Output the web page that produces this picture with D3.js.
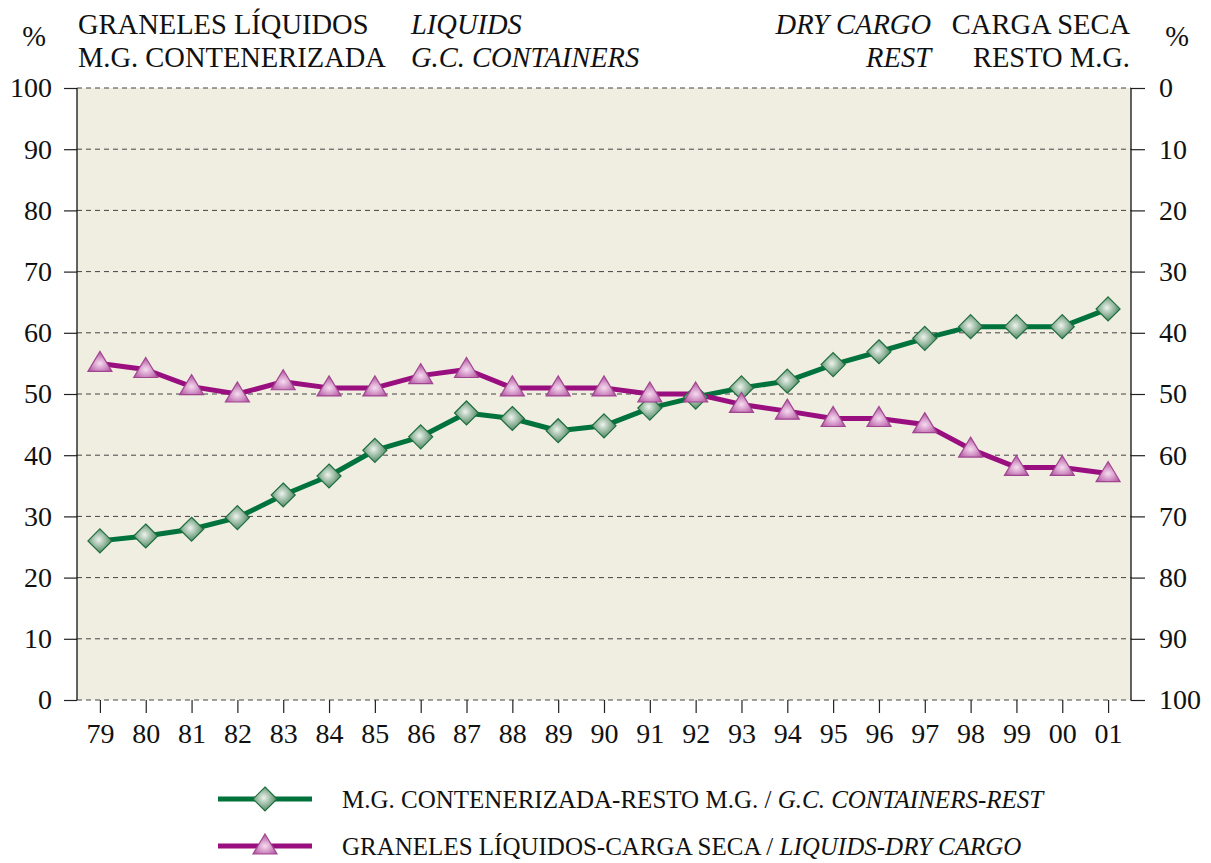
<!DOCTYPE html>
<html>
<head>
<meta charset="utf-8">
<script src="https://cdn.jsdelivr.net/npm/d3@7"></script>
<style>
  body { margin: 0; background: #fff; }
  text { font-family: "Liberation Serif", "Times New Roman", serif; fill: #111; }
</style>
</head>
<body>
<svg id="chart" width="1211" height="863"></svg>
<script>
// data
var years = ["79","80","81","82","83","84","85","86","87","88","89","90","91","92","93","94","95","96","97","98","99","00","01"];
var containers = [26, 26.8, 27.9, 29.8, 33.5, 36.6, 40.8, 43, 46.9, 46, 44, 44.8, 47.7, 49.5, 51, 52.1, 54.8, 56.9, 59.1, 61, 61, 61, 63.9];
var liquids = [55, 54, 51.2, 50, 52, 51, 51, 53, 54, 51, 51, 51, 50, 50, 48.3, 47.2, 46, 46, 45, 41, 38, 38, 37];
var leftTicks = [0, 10, 20, 30, 40, 50, 60, 70, 80, 90, 100];

var green = "#00733c", magenta = "#990f7f";

var svg = d3.select("#chart");
var pLeft = 77, pRight = 1131, pTop = 88, pBottom = 700;

var x = d3.scalePoint().domain(years).range([pLeft, pRight]).padding(0.5);
var y = d3.scaleLinear().domain([0, 100]).range([pBottom, pTop]);
var yr = d3.scaleLinear().domain([100, 0]).range([pBottom, pTop]);

var defs = svg.append("defs");
var gd = defs.append("radialGradient").attr("id", "gDia").attr("cx", "45%").attr("cy", "45%").attr("r", "60%");
gd.append("stop").attr("offset", "0%").attr("stop-color", "#eef3ec");
gd.append("stop").attr("offset", "100%").attr("stop-color", "#3f7d55");
var gt = defs.append("radialGradient").attr("id", "gTri").attr("cx", "50%").attr("cy", "60%").attr("r", "60%");
gt.append("stop").attr("offset", "0%").attr("stop-color", "#f6dcef");
gt.append("stop").attr("offset", "100%").attr("stop-color", "#b14fa0");

// plot background
svg.append("rect").attr("x", pLeft).attr("y", pTop).attr("width", pRight - pLeft).attr("height", pBottom - pTop)
  .attr("fill", "#f0ede1");

// grid
svg.append("g").selectAll("line").data(leftTicks).join("line")
  .attr("x1", pLeft).attr("x2", pRight)
  .attr("y1", d => y(d)).attr("y2", d => y(d))
  .attr("stroke", "#444").attr("stroke-width", 1)
  .attr("stroke-dasharray", "5,4");

// axes
var fs = "28px";
var gl = svg.append("g").attr("transform", "translate(" + pLeft + ",0)")
  .call(d3.axisLeft(y).tickValues(leftTicks).tickSize(13).tickPadding(12));
var gr = svg.append("g").attr("transform", "translate(" + pRight + ",0)")
  .call(d3.axisRight(yr).tickValues(leftTicks).tickSize(14).tickPadding(14));
var gb = svg.append("g").attr("transform", "translate(0," + pBottom + ")")
  .call(d3.axisBottom(x).tickSize(13).tickPadding(10));
[gl, gr, gb].forEach(function(g) {
  g.select(".domain").remove();
  g.selectAll("line").attr("stroke", "#222").attr("stroke-width", 1.2);
  g.selectAll("text").attr("font-size", fs).attr("font-family", "Liberation Serif").attr("fill", "#111");
});
svg.append("line").attr("x1", pLeft).attr("x2", pLeft).attr("y1", pTop).attr("y2", pBottom).attr("stroke", "#111").attr("stroke-width", 1.3);
svg.append("line").attr("x1", pRight).attr("x2", pRight).attr("y1", pTop).attr("y2", pBottom).attr("stroke", "#111").attr("stroke-width", 1.3);

// lines
var line = d3.line().x((d, i) => x(years[i])).y(d => y(d));
svg.append("path").datum(containers).attr("d", line).attr("fill", "none")
  .attr("stroke", green).attr("stroke-width", 5).attr("stroke-linejoin", "round");
svg.append("path").datum(liquids).attr("d", line).attr("fill", "none")
  .attr("stroke", magenta).attr("stroke-width", 5).attr("stroke-linejoin", "round");

var diamond = "M0,-12L12,0L0,12L-12,0Z";
var triangle = "M0,-12L12,8L-12,8Z";

svg.append("g").selectAll("path").data(containers).join("path")
  .attr("transform", (d, i) => "translate(" + x(years[i]) + "," + y(d) + ")")
  .attr("d", diamond).attr("fill", "url(#gDia)").attr("stroke", "#1e6e3e").attr("stroke-width", 1.2);
svg.append("g").selectAll("path").data(liquids).join("path")
  .attr("transform", (d, i) => "translate(" + x(years[i]) + "," + y(d) + ")")
  .attr("d", triangle).attr("fill", "url(#gTri)").attr("stroke", "#a0468f").attr("stroke-width", 1.2);

// header
function hdr(txt, xx, yy, anchor, italic) {
  svg.append("text").attr("x", xx).attr("y", yy).attr("text-anchor", anchor)
    .attr("font-size", "28.5px").attr("font-style", italic ? "italic" : "normal").text(txt);
}
hdr("%", 34, 46, "middle", false);
hdr("%", 1177, 46, "middle", false);
hdr("GRANELES LÍQUIDOS", 78, 34, "start", false);
hdr("M.G. CONTENERIZADA", 78, 67, "start", false);
hdr("LIQUIDS", 411, 34, "start", true);
hdr("G.C. CONTAINERS", 411, 67, "start", true);
hdr("DRY CARGO", 931, 34, "end", true);
hdr("REST", 931, 67, "end", true);
hdr("CARGA SECA", 1130, 34, "end", false);
hdr("RESTO M.G.", 1130, 67, "end", false);

// legend
var legend = [
  {y: 799, color: green, shape: diamond, fill: "url(#gDia)", stroke: "#1e6e3e", a: "M.G. CONTENERIZADA-RESTO M.G. / ", b: "G.C. CONTAINERS-REST"},
  {y: 846, color: magenta, shape: triangle, fill: "url(#gTri)", stroke: "#a0468f", a: "GRANELES LÍQUIDOS-CARGA SECA / ", b: "LIQUIDS-DRY CARGO"}
];
var lg = svg.append("g").selectAll("g").data(legend).join("g");
lg.append("line").attr("x1", 218).attr("x2", 312).attr("y1", d => d.y).attr("y2", d => d.y)
  .attr("stroke", d => d.color).attr("stroke-width", 5);
lg.append("path").attr("transform", d => "translate(265," + d.y + ")")
  .attr("d", d => d.shape).attr("fill", d => d.fill).attr("stroke", d => d.stroke).attr("stroke-width", 1.2);
var lt = lg.append("text").attr("x", 342).attr("y", d => d.y + 9).attr("font-size", "25px");
lt.append("tspan").text(d => d.a);
lt.append("tspan").attr("font-style", "italic").text(d => d.b);
</script>
</body>
</html>
